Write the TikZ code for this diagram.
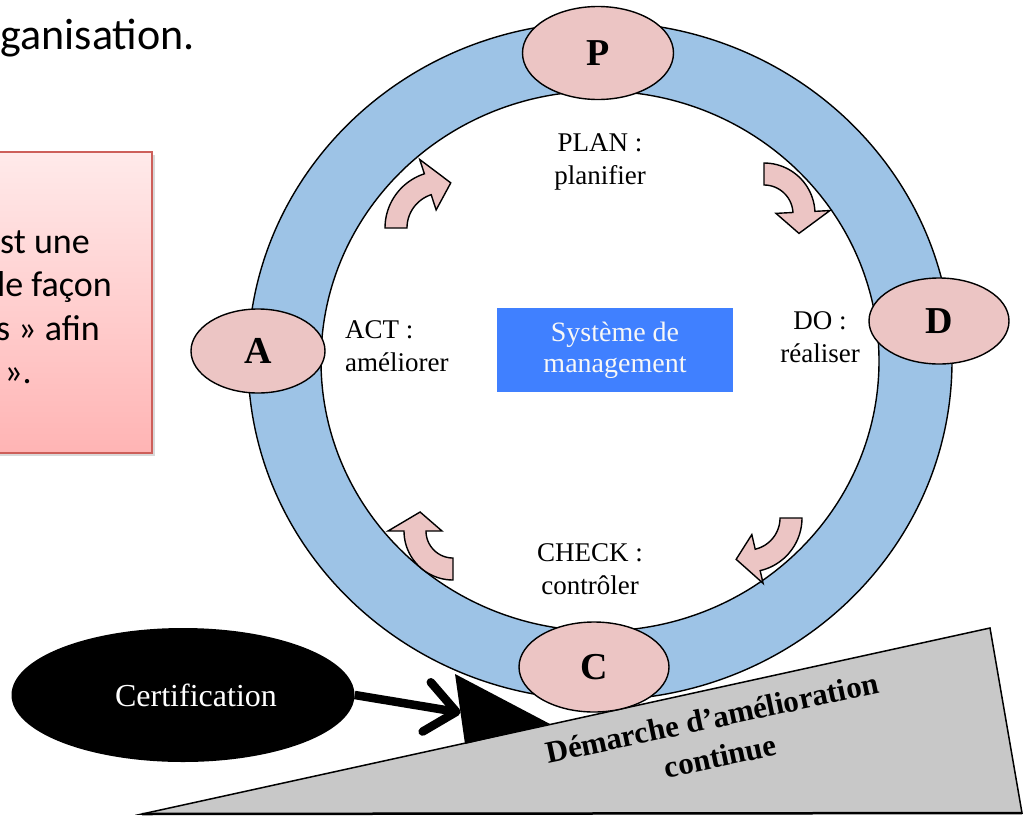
\documentclass[tikz,border=0pt]{standalone}
\usepackage{fontspec}
\setmainfont{Liberation Serif}
\newfontfamily\calibri{Carlito}
\usepackage{xcolor}
\usetikzlibrary{shapes.geometric,arrows.meta,positioning,shadows,calc}

\definecolor{ringblue}{RGB}{157,195,230}
\definecolor{phasepink}{RGB}{236,197,196}
\definecolor{mgmtblue}{RGB}{64,128,255}
\definecolor{rampgray}{RGB}{200,200,200}
\definecolor{notetop}{RGB}{255,234,234}
\definecolor{notebottom}{RGB}{255,180,180}
\definecolor{noteborder}{RGB}{205,95,90}

\newcommand{\cyclearrow}[9]{%
  \filldraw[cyclearrowstyle, shift={(#1,#2)}]
    plot[domain=#5:#6, samples=25] ({#4*cos(\x)},{#4*sin(\x)})
    -- (#6:#9) -- (#7:{(#3+#4)/2}) -- (#6:#8)
    -- plot[domain=#6:#5, samples=25] ({#3*cos(\x)},{#3*sin(\x)}) -- cycle;}

\begin{document}
\begin{tikzpicture}[x=1pt, y=-1pt,
  phase/.style={ellipse, draw, line width=1.4pt, fill=phasepink, inner sep=0pt,
    font=\fontsize{38}{38}\selectfont\bfseries},
  steplbl/.style={font=\fontsize{27}{33}\selectfont, align=center, inner sep=0pt},
  notetxt/.style={font=\calibri\fontsize{36}{43}\selectfont, inner sep=0pt, anchor=base east},
  cyclearrowstyle/.style={fill=phasepink, draw, line width=1.4pt, line join=miter}]
\useasboundingbox (0,0) rectangle (1036,817);

\node[font=\calibri\fontsize{44}{44}\selectfont, anchor=base east, inner sep=0pt] (title) at (195,49) {ganisation.};

\node[draw=noteborder, line width=1.2pt, top color=notetop, bottom color=notebottom,
  minimum width=162pt, minimum height=301pt,
  drop shadow={opacity=0.3, shadow xshift=3pt, shadow yshift=-3pt}] (note) at (71,302.5) {};
\foreach \txt/\xr/\yb in {st une/90/253, le façon/112/296, s » afin/100/340, »./32/383}
  \node[notetxt] at (\xr,\yb) {\txt};

\coordinate (rampleft) at (142,814);
\coordinate (ramptop) at (990,628);
\coordinate (rampright) at (1022,813);
\filldraw[fill=rampgray, line width=1.5pt, line join=miter] (rampleft) -- (ramptop) -- (rampright) -- cycle;
\draw[line width=2.5pt] (rampleft) -- (rampright);

\coordinate (wedgetop) at (455,674);
\coordinate (wedgelow) at (465,744);
\coordinate (wedgetip) at (550,724);
\fill (wedgetop) -- (wedgelow) -- (wedgetip) -- cycle;

\node[ellipse, fill=black, minimum width=343pt, minimum height=134pt] (cert) at (183,695) {};
\node[text=white, font=\fontsize{32}{32}\selectfont] (certlbl) at (196,695) {Certification};
\coordinate (certhit) at ($(wedgetop)!0.55!(wedgelow)$);
\draw[line width=8.5pt, -{Straight Barb[length=30pt, width=50pt, round]}] (cert.east) -- (certhit);

\coordinate (hub) at (600,361);
\fill[ringblue, even odd rule] (hub) ellipse [x radius=352, y radius=339]
  (hub) ellipse [x radius=279, y radius=270];
\draw[line width=1.4pt] (hub) ellipse [x radius=352, y radius=339]
  (hub) ellipse [x radius=279, y radius=270];

\cyclearrow{442}{228}{35}{57}{180}{252}{281}{19}{72}
\cyclearrow{764}{214}{29}{51}{-90}{-3}{29}{12}{66}
\cyclearrow{748}{518}{32}{54}{0}{77}{106}{17}{67}
\cyclearrow{453}{531}{27}{49}{90}{180}{210}{11}{65}

\node[steplbl] (planlbl) at (600,162) {PLAN :\\planifier};
\node[steplbl] (dolbl) at (820,337) {DO :\\réaliser};
\node[steplbl, align=left, anchor=west] (actlbl) at (345,346) {ACT :\\améliorer};
\node[steplbl] (checklbl) at (590,569) {CHECK :\\contrôler};

\node[fill=mgmtblue, text=white!94!gray, minimum width=236pt, minimum height=84pt,
  font=\fontsize{28}{31}\selectfont, align=center] (mgmt) at (615,350) {Système de\\management};

\node[phase, minimum width=151pt, minimum height=93pt] (plan) at (598,53) {P};
\node[phase, minimum width=140pt, minimum height=86pt] (do) at (939,321) {D};
\node[phase, minimum width=134pt, minimum height=84pt] (act) at (258,351) {A};
\node[phase, minimum width=150pt, minimum height=90pt] (check) at (594,667) {C};

\node[font=\fontsize{31}{39}\selectfont\bfseries, rotate=12, align=center] (ramplbl)
  at (716,737) {Démarche d’amélioration\\continue};
\end{tikzpicture}
\end{document}
